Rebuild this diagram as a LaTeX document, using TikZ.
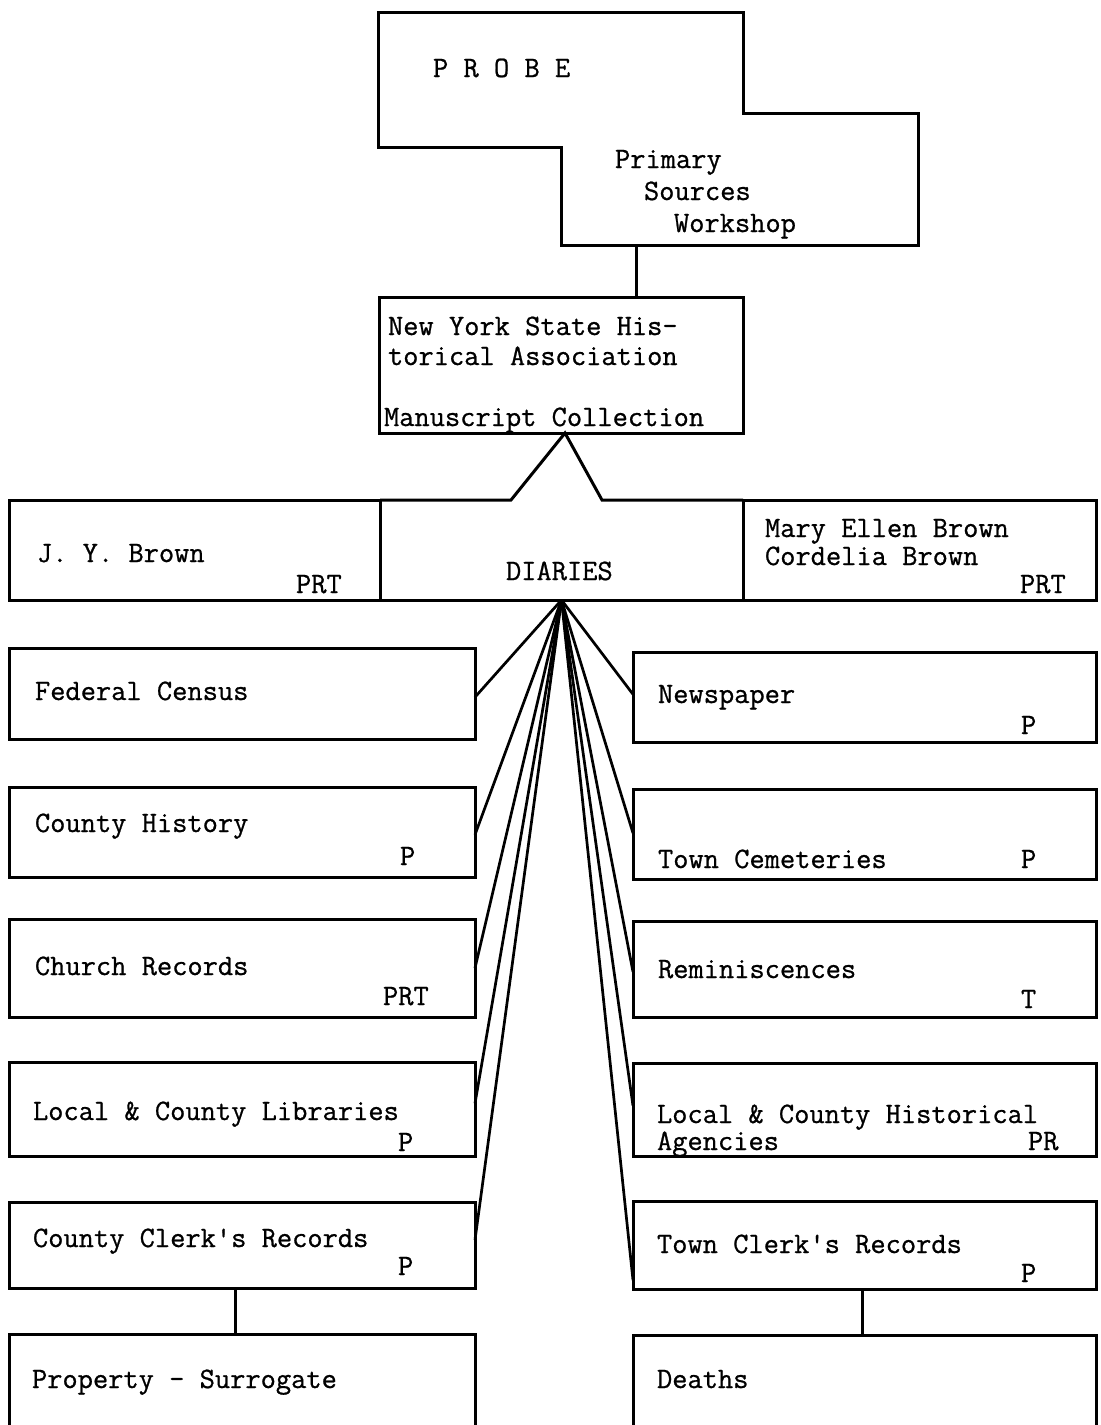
\documentclass[tikz,border=0pt]{standalone}
\usepackage{fontspec}
\newfontfamily\tw{Latin Modern Mono}[FakeBold=0.8]
\usetikzlibrary{calc}
\def\u{0.5pt}
\begin{document}
\begin{tikzpicture}[x=0.5pt,y=-0.5pt,
  box/.style={draw, rectangle, line width=1.5pt, inner sep=0pt, outer sep=0pt, anchor=north west},
  hidden/.style={rectangle, inner sep=0pt, outer sep=0pt, anchor=north west},
  lbl/.style={font=\fontsize{14.8pt}{17pt}\selectfont\tw, anchor=base west, inner sep=0pt, outer sep=0pt},
  edge/.style={line width=1.5pt},
  fan/.style={line width=1.35pt}]
\useasboundingbox (0,0) rectangle (1101,1425);
\clip (0,0) rectangle (1101,1425);

% PROBE outline
\draw[edge, line join=miter] (378,12) -- (743,12) -- (743,113) -- (918,113) -- (918,245)
   -- (561,245) -- (561,147) -- (378,147) -- cycle;
\coordinate (probebot) at (636,245);
\node[lbl] (tprobe) at (433,77) {P R O B E};
\node[lbl] (tprim) at (615,168) {Primary};
\node[lbl] (tsrc) at (644,200) {Sources};
\node[lbl] (twork) at (674,232) {Workshop};

% NYSHA
\node[box, minimum width=364*\u, minimum height=136*\u] (nysha) at (379,297) {};
\node[lbl] (tny1) at (388,335) {New York State His-};
\node[lbl] (tny2) at (388,365) {torical Association};
\node[lbl] (tny3) at (384,426) {Manuscript Collection};
\draw[edge] (probebot) -- (probebot |- nysha.north);

% top row
\node[box, minimum width=371*\u, minimum height=100*\u] (jy) at (9,500) {};
\node[hidden, minimum width=363*\u, minimum height=100*\u] (diaries) at (380,500) {};
\node[box, minimum width=353*\u, minimum height=100*\u] (meb) at (743,500) {};
\coordinate (vl) at (511,500);
\coordinate (vr) at (602,500);
\coordinate (vtop) at ([xshift=2pt]nysha.south);
\draw[edge, line join=miter] (diaries.north west) -- (vl) -- (vtop) -- (vr) -- (diaries.north east);
\draw[edge] (diaries.north west) -- (diaries.south west) -- (diaries.south east) -- (diaries.north east);
\coordinate (apex) at (diaries.south);
\node[lbl] (tjy) at (37,562) {J. Y. Brown};
\node[lbl] (tjyc) at (296,593) {PRT};
\node[lbl] (tdia) at (506,580) {DIARIES};
\node[lbl] (tmeb1) at (765,537) {Mary Ellen Brown};
\node[lbl] (tmeb2) at (765,565) {Cordelia Brown};
\node[lbl] (tmebc) at (1020,593) {PRT};

% left column
\node[box, minimum width=466*\u, minimum height=91*\u] (fed) at (9,648) {};
\node[box, minimum width=466*\u, minimum height=90*\u] (chist) at (9,787) {};
\node[box, minimum width=466*\u, minimum height=98*\u] (church) at (9,919) {};
\node[box, minimum width=466*\u, minimum height=94*\u] (llib) at (9,1062) {};
\node[box, minimum width=466*\u, minimum height=86*\u] (cclerk) at (9,1202) {};
\node[box, minimum width=466*\u, minimum height=130*\u] (prop) at (9,1334) {};

\node[lbl] (tfed) at (35,700) {Federal Census};
\node[lbl] (tchist) at (35,832) {County History};
\node[lbl] (tchistc) at (400,865) {P};
\node[lbl] (tchurch) at (35,975) {Church Records};
\node[lbl] (tchurchc) at (383,1005) {PRT};
\node[lbl] (tllib) at (33,1120) {Local \& County Libraries};
\node[lbl] (tllibc) at (398,1151) {P};
\node[lbl] (tcclerk) at (33,1247) {County Clerk's Records};
\node[lbl] (tcclerkc) at (398,1275) {P};
\node[lbl] (tprop) at (32,1388) {Property - Surrogate};

% right column
\node[box, minimum width=463*\u, minimum height=90*\u] (news) at (633,652) {};
\node[box, minimum width=463*\u, minimum height=90*\u] (tcem) at (633,789) {};
\node[box, minimum width=463*\u, minimum height=96*\u] (remi) at (633,921) {};
\node[box, minimum width=463*\u, minimum height=93*\u] (lhist) at (633,1063) {};
\node[box, minimum width=463*\u, minimum height=88*\u] (tclerk) at (633,1201) {};
\node[box, minimum width=463*\u, minimum height=130*\u] (deaths) at (633,1335) {};

\node[lbl] (tnews) at (658,703) {Newspaper};
\node[lbl] (tnewsc) at (1021,734) {P};
\node[lbl] (ttcem) at (658,868) {Town Cemeteries};
\node[lbl] (ttcemc) at (1021,868) {P};
\node[lbl] (tremi) at (658,978) {Reminiscences};
\node[lbl] (tremic) at (1021,1008) {T};
\node[lbl] (tlhist1) at (657,1123) {Local \& County Historical};
\node[lbl] (tlhist2) at (657,1150) {Agencies};
\node[lbl] (tlhistc) at (1028,1150) {PR};
\node[lbl] (ttclerk) at (657,1253) {Town Clerk's Records};
\node[lbl] (ttclerkc) at (1021,1282) {P};
\node[lbl] (tdeaths) at (657,1388) {Deaths};

% fan connectors
\draw[fan] (apex) -- ($(fed.north east)!0.54!(fed.south east)$);
\draw[fan] (apex) -- ($(chist.north east)!0.53!(chist.south east)$);
\draw[fan] (apex) -- ($(church.north east)!0.5!(church.south east)$);
\draw[fan] (apex) -- ($(llib.north east)!0.44!(llib.south east)$);
\draw[fan] (apex) -- ($(cclerk.north east)!0.44!(cclerk.south east)$);
\draw[fan] (apex) -- ($(news.north west)!0.47!(news.south west)$);
\draw[fan] (apex) -- ($(tcem.north west)!0.49!(tcem.south west)$);
\draw[fan] (apex) -- ($(remi.north west)!0.53!(remi.south west)$);
\draw[fan] (apex) -- ($(lhist.north west)!0.46!(lhist.south west)$);
\draw[fan] (apex) -- ($(tclerk.north west)!0.9!(tclerk.south west)$);

% lower connectors
\draw[edge] ([xshift=-3.5pt]cclerk.south) -- ([xshift=-3.5pt]prop.north);
\draw[edge] ([xshift=-1pt]tclerk.south) -- ([xshift=-1pt]deaths.north);
\end{tikzpicture}
\end{document}
